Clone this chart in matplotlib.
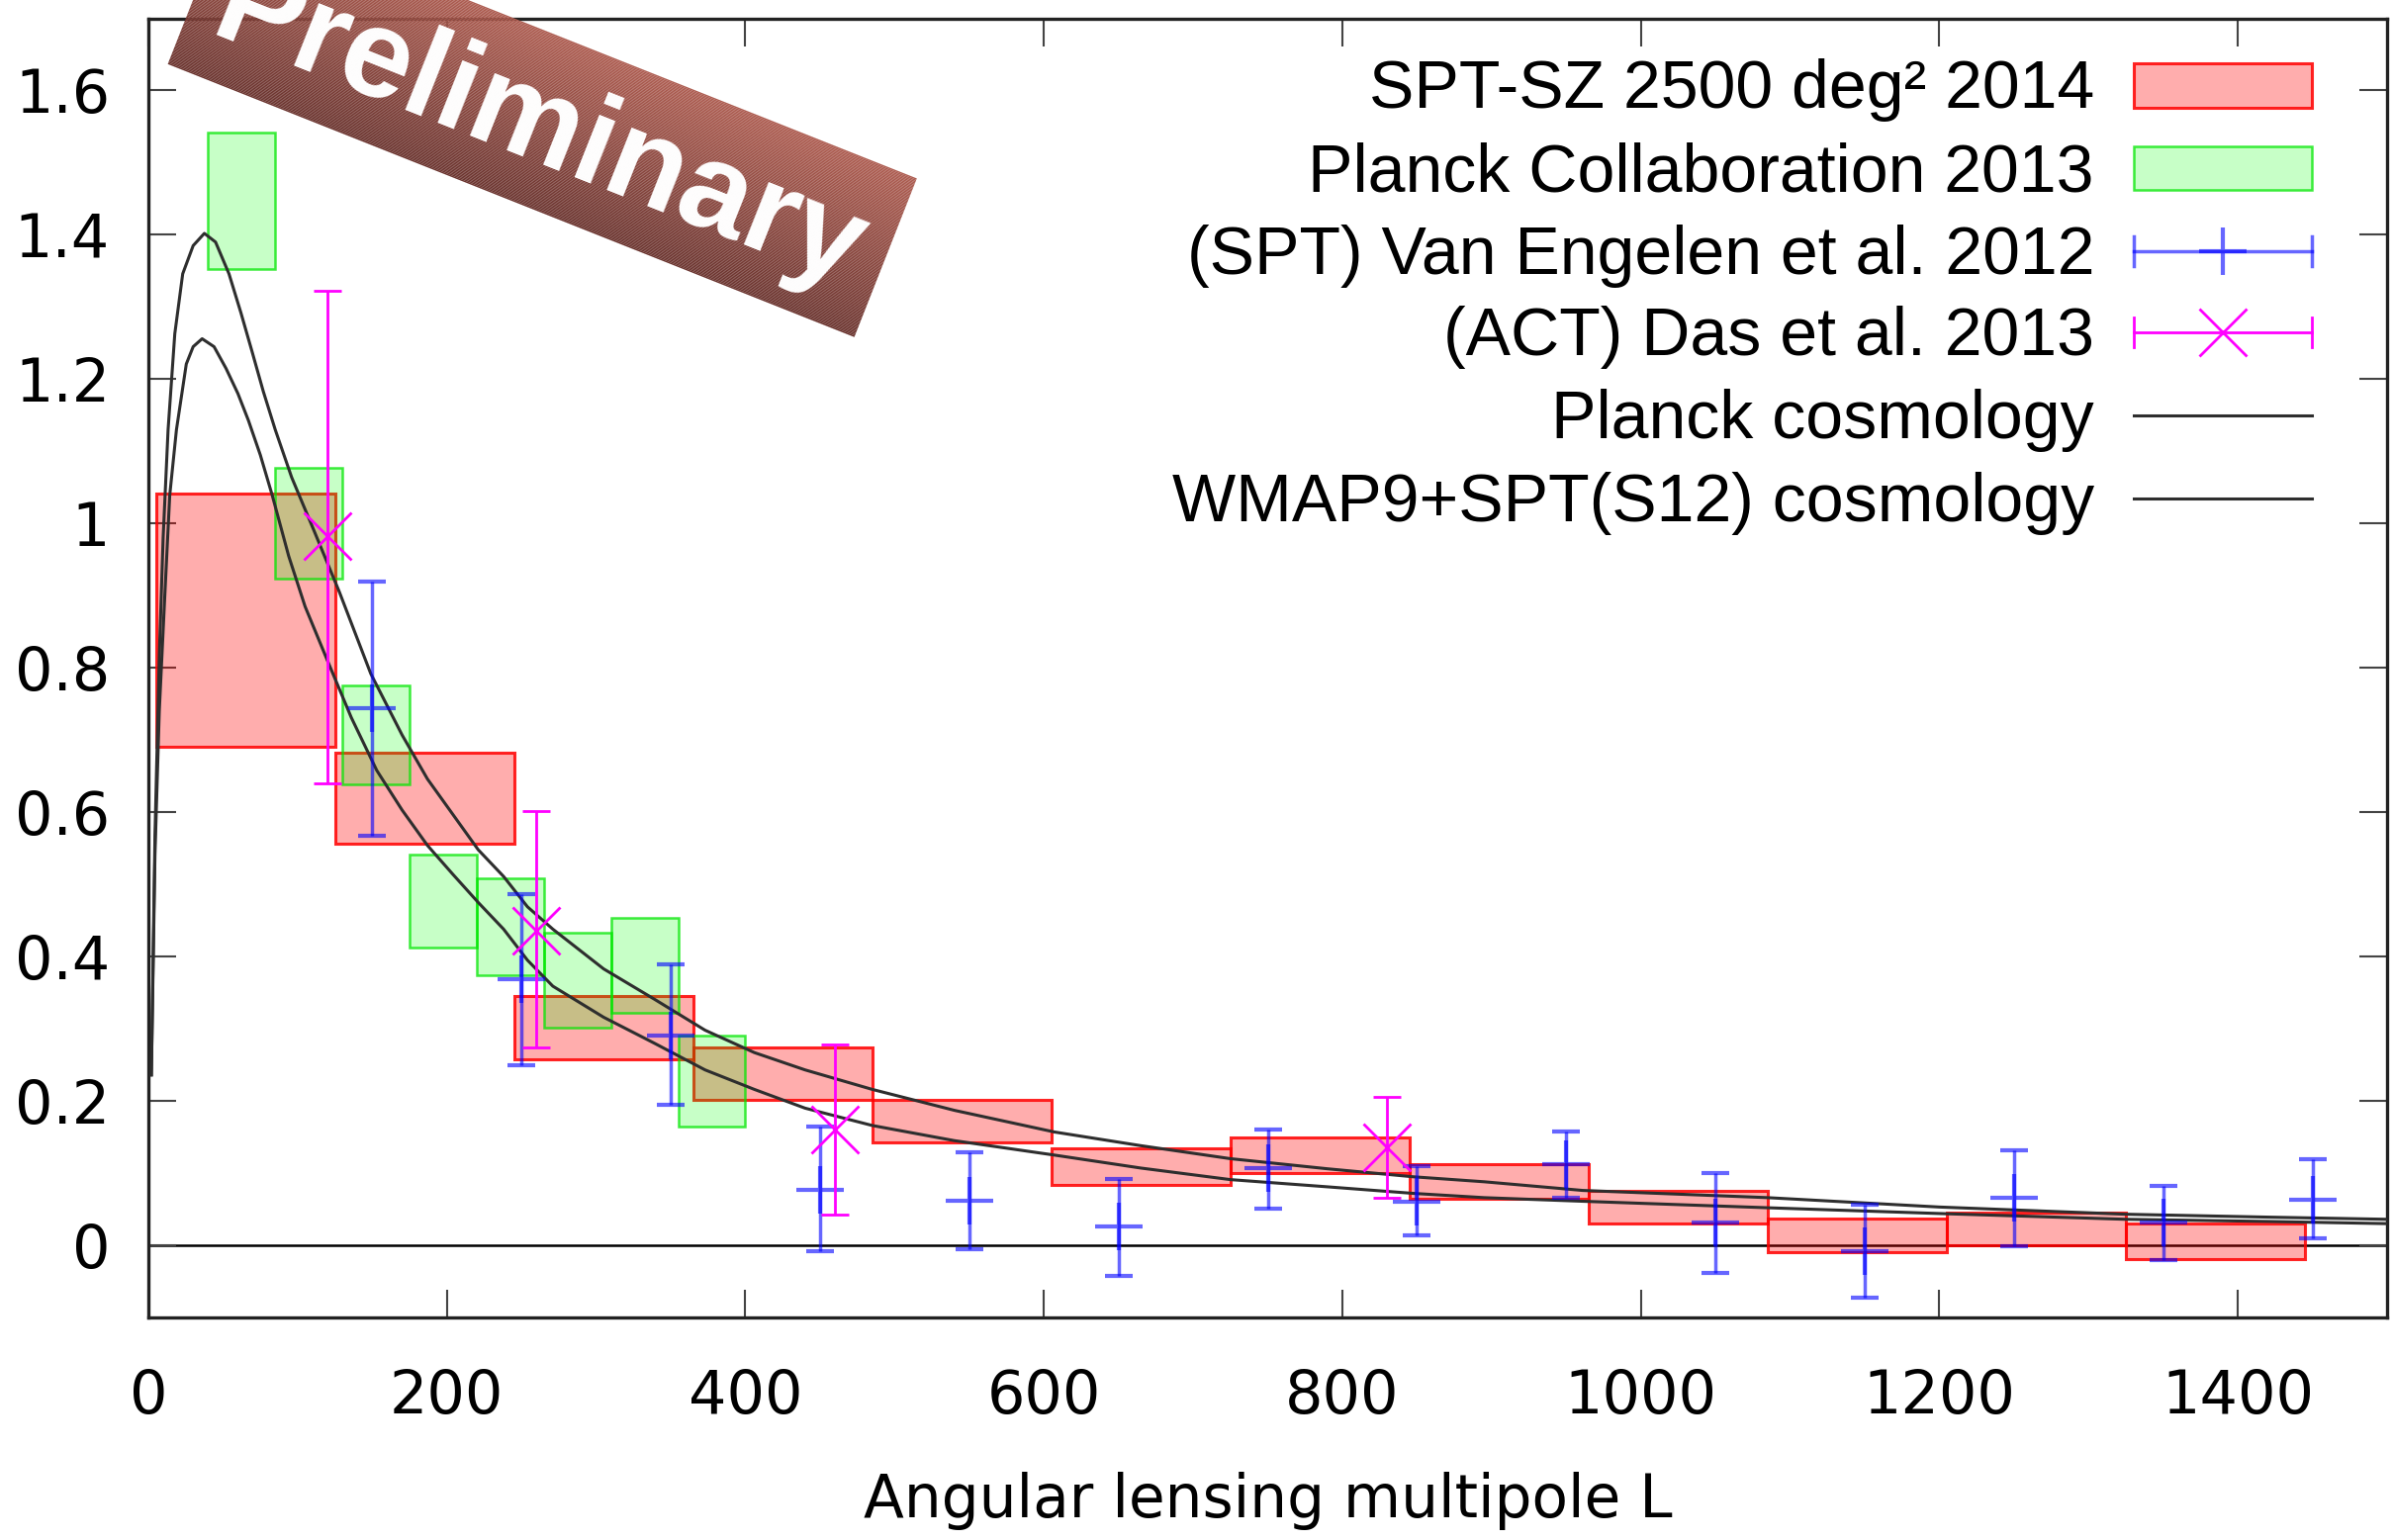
import numpy as np
import matplotlib
matplotlib.use("Agg")
import matplotlib.pyplot as plt
from matplotlib.patches import Rectangle, Polygon

# ---------------- data ----------------
# SPT-SZ 2500 deg^2 2014 bandpowers (boxes)
spt14_lmin = [5, 125, 245, 365, 485, 605, 725, 845, 965, 1085, 1205, 1325]
spt14_lmax = [125, 245, 365, 485, 605, 725, 845, 965, 1085, 1205, 1325, 1445]
spt14_low = [0.691, 0.557, 0.257, 0.202, 0.143, 0.084, 0.100, 0.064, 0.030, -0.009, 0.000, -0.019]
spt14_high = [1.041, 0.683, 0.345, 0.274, 0.202, 0.134, 0.150, 0.112, 0.075, 0.037, 0.045, 0.030]

# Planck Collaboration 2013 bandpowers (boxes)
planck13_lmin = [40, 85, 130, 175, 220, 265, 310, 355]
planck13_lmax = [85, 130, 175, 220, 265, 310, 355, 400]
planck13_low = [1.352, 0.924, 0.639, 0.413, 0.374, 0.301, 0.322, 0.164]
planck13_high = [1.542, 1.077, 0.776, 0.542, 0.508, 0.433, 0.454, 0.291]

# (SPT) van Engelen et al. 2012
spt12_L = [150, 250, 350, 450, 550, 650, 750, 850, 950, 1050, 1150, 1250, 1350, 1450]
spt12_val = [0.744, 0.369, 0.291, 0.077, 0.062, 0.026, 0.107, 0.061, 0.112, 0.031, -0.008, 0.066, 0.032, 0.063]
spt12_lo = [0.567, 0.249, 0.194, -0.008, -0.005, -0.042, 0.051, 0.014, 0.066, -0.038, -0.072, -0.001, -0.020, 0.009]
spt12_hi = [0.919, 0.487, 0.389, 0.164, 0.129, 0.092, 0.161, 0.109, 0.158, 0.100, 0.056, 0.132, 0.082, 0.119]

# (ACT) Das et al. 2013
act13_L = [120, 260, 460, 830]
act13_val = [0.982, 0.436, 0.161, 0.136]
act13_lo = [0.640, 0.274, 0.043, 0.066]
act13_hi = [1.323, 0.601, 0.278, 0.205]

# Theory curves
planck_cosmo_L = [2, 4.4, 7.3, 9.9, 13.2, 17.7, 23, 30, 37.5, 45, 54, 62, 69.5, 77, 85, 96, 111,
                  128, 149, 170, 187, 204, 221, 238, 254, 271, 305, 339, 373, 406, 440, 485, 540,
                  607, 665, 725, 790, 847, 895, 961, 1085, 1200, 1325, 1420, 1500]
planck_cosmo_v = [0.236, 0.567, 0.816, 0.981, 1.130, 1.263, 1.346, 1.385, 1.402, 1.390, 1.346, 1.292,
                  1.238, 1.183, 1.130, 1.064, 0.990, 0.905, 0.792, 0.707, 0.646, 0.597, 0.548, 0.511,
                  0.469, 0.438, 0.383, 0.341, 0.298, 0.267, 0.243, 0.216, 0.187, 0.157, 0.138, 0.120,
                  0.106, 0.095, 0.088, 0.076, 0.066, 0.053, 0.043, 0.039, 0.036]
wmap_cosmo_L = [2, 4.4, 7.3, 11, 14.3, 18.8, 25.4, 30, 36, 44, 52, 60, 67, 75, 83, 94, 105, 120,
                136, 153, 170, 187, 204, 221, 238, 254, 271, 305, 339, 373, 406, 440, 485, 540,
                607, 665, 725, 790, 847, 895, 961, 1085, 1200, 1325, 1420, 1500]
wmap_cosmo_v = [0.236, 0.54, 0.74, 0.900, 1.039, 1.130, 1.221, 1.245, 1.256, 1.245, 1.215, 1.180,
                1.143, 1.095, 1.039, 0.955, 0.885, 0.810, 0.731, 0.658, 0.603, 0.554, 0.514, 0.475,
                0.438, 0.395, 0.359, 0.316, 0.280, 0.243, 0.216, 0.190, 0.166, 0.145, 0.125, 0.107,
                0.091, 0.081, 0.072, 0.066, 0.061, 0.052, 0.044, 0.036, 0.033, 0.030]

xticks = [0, 200, 400, 600, 800, 1000, 1200, 1400]
yticks = [0, 0.2, 0.4, 0.6, 0.8, 1.0, 1.2, 1.4, 1.6]
ytick_labels = ["0", "0.2", "0.4", "0.6", "0.8", "1", "1.2", "1.4", "1.6"]

legend_labels = ["SPT-SZ 2500 deg\u00b2 2014", "Planck Collaboration 2013",
                 "(SPT) Van Engelen et al. 2012", "(ACT) Das et al. 2013",
                 "Planck cosmology", "WMAP9+SPT(S12) cosmology"]
xlabel = "Angular lensing multipole L"
banner_text = "Preliminary"

# ---------------- figure ----------------
W, H = 2418, 1557
fig = plt.figure(figsize=(W / 100, H / 100), dpi=100)
fig.patch.set_facecolor("white")

ax_l, ax_r, ax_t, ax_b = 150, 2413, 18.5, 1332
ax = fig.add_axes([ax_l / W, 1 - ax_b / H, (ax_r - ax_l) / W, (ax_b - ax_t) / H])

RED_FACE = (1, 0, 0, 0.32)
RED_EDGE = (1, 0, 0, 0.85)
GREEN_FACE = (0, 1, 0, 0.22)
GREEN_EDGE = (0, 0.9, 0, 0.75)
BLUE = (0, 0, 1, 0.6)
MAGENTA = "#ff00ff"
CURVE = "#2e2e2e"

for l0, l1, lo, hi in zip(spt14_lmin, spt14_lmax, spt14_low, spt14_high):
    ax.add_patch(Rectangle((l0, lo), l1 - l0, hi - lo, facecolor=RED_FACE,
                           edgecolor=RED_EDGE, lw=2.2, zorder=2))
for l0, l1, lo, hi in zip(planck13_lmin, planck13_lmax, planck13_low, planck13_high):
    ax.add_patch(Rectangle((l0, lo), l1 - l0, hi - lo, facecolor=GREEN_FACE,
                           edgecolor=GREEN_EDGE, lw=1.8, zorder=3))

ax.axhline(0, color="black", lw=1.8, zorder=1.5)

ax.plot(planck_cosmo_L, planck_cosmo_v, color=CURVE, lw=2.2, zorder=4)
ax.plot(wmap_cosmo_L, wmap_cosmo_v, color=CURVE, lw=2.2, zorder=4)

v = np.array(spt12_val)
ax.errorbar(spt12_L, spt12_val, yerr=[v - np.array(spt12_lo), np.array(spt12_hi) - v],
            fmt="+", ms=34, mew=3, color=BLUE, ecolor=BLUE, elinewidth=2.5,
            capsize=10, capthick=2.5, zorder=5)
va = np.array(act13_val)
ax.errorbar(act13_L, act13_val, yerr=[va - np.array(act13_lo), np.array(act13_hi) - va],
            fmt="x", ms=34, mew=2, color=MAGENTA, ecolor=MAGENTA, elinewidth=2,
            capsize=10, capthick=2, zorder=6)

ax.set_xlim(0, 1500)
ax.set_ylim(-0.1, 1.7)
ax.set_xticks(xticks)
ax.set_xticklabels([str(t) for t in xticks])
ax.set_yticks(yticks)
ax.set_yticklabels(ytick_labels)
ax.tick_params(axis="both", direction="in", length=20, width=1.5, color="#444444",
               top=True, right=True, labelsize=43.5)
ax.tick_params(axis="x", pad=37)
ax.tick_params(axis="y", pad=28)
for lab in ax.get_xticklabels() + ax.get_yticklabels():
    lab.set_fontfamily("DejaVu Sans")
for s in ax.spines.values():
    s.set_linewidth(2.4)
    s.set_color("#222222")
ax.set_xlabel(xlabel, fontsize=43, family="DejaVu Sans", labelpad=33)

# ---------------- overlay in pixel coordinates ----------------
ov = fig.add_axes([0, 0, 1, 1])
ov.set_xlim(0, W)
ov.set_ylim(H, 0)
ov.set_axis_off()

# legend (gnuplot style: right-aligned text, sample on the right)
row_y = [86.3, 170.0, 254.3, 335.7, 419.6, 503.6]
text_right = 2117
s0, s1 = 2157, 2337
sm = (s0 + s1) / 2
for lab, yy in zip(legend_labels, row_y):
    ov.text(text_right, yy + 23, lab, ha="right", va="baseline", fontsize=49,
            family=["Liberation Sans", "DejaVu Sans"], color="black")
ov.add_patch(Rectangle((s0, row_y[0] - 22.5), s1 - s0, 45, facecolor=RED_FACE,
                       edgecolor=RED_EDGE, lw=2.2))
ov.add_patch(Rectangle((s0, row_y[1] - 22), s1 - s0, 44, facecolor=GREEN_FACE,
                       edgecolor=GREEN_EDGE, lw=1.8))
for yy, col, mk, lw in [(row_y[2], BLUE, "+", 2.5), (row_y[3], MAGENTA, "x", 2)]:
    ov.plot([s0, s1], [yy, yy], color=col, lw=lw)
    ov.plot([s0, s0], [yy - 15, yy + 15], color=col, lw=lw)
    ov.plot([s1, s1], [yy - 15, yy + 15], color=col, lw=lw)
    ov.plot([sm], [yy], marker=mk, ms=34, mew=3 if mk == "+" else 2,
            color=col, ls="none")
ov.plot([s0, s1], [row_y[4], row_y[4]], color=CURVE, lw=2.2)
ov.plot([s0, s1], [row_y[5], row_y[5]], color=CURVE, lw=2.2)

# "Preliminary" banner: rotated box with a gradient across its short side
LL = np.array([169.6, 64.8])
LR = np.array([863.6, 340.8])
UR = np.array([926.8, 180.4])
UL = LL + (UR - LR)
dark = np.array([0x6a, 0x33, 0x2e]) / 255
light = np.array([0xad, 0x5c, 0x50]) / 255
nstrip = 120
for i in range(nstrip):
    f0, f1 = i / nstrip, (i + 1.02) / nstrip
    p0 = LL + (UL - LL) * f0
    p1 = LR + (UR - LR) * f0
    p2 = LR + (UR - LR) * min(f1, 1)
    p3 = LL + (UL - LL) * min(f1, 1)
    col = dark * (1 - (i + 0.5) / nstrip) + light * ((i + 0.5) / nstrip)
    ov.add_patch(Polygon([p0, p1, p2, p3], closed=True, facecolor=col,
                         edgecolor="none", lw=0, zorder=10))
center = LL + 0.5 * (LR - LL) + 0.5 * (UL - LL)
dx, dy = LR - LL
ang = -np.degrees(np.arctan2(dy, dx))
ov.text(center[0] - 4, center[1] + 10, banner_text, rotation=ang, rotation_mode="anchor",
        ha="center", va="center", fontsize=92, fontweight="bold", color="white",
        family=["Liberation Sans", "DejaVu Sans"], zorder=11)

fig.savefig("out.png", dpi=100)
